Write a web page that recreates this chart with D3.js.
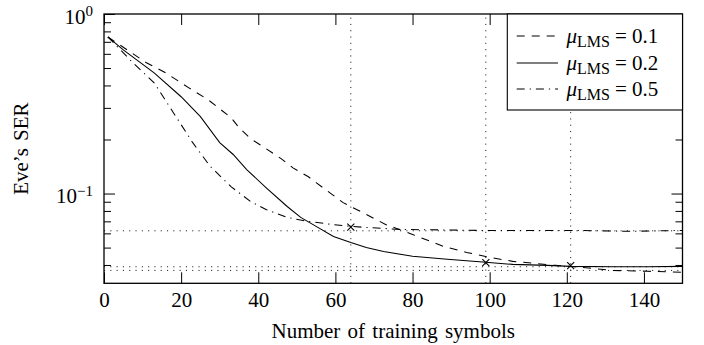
<!DOCTYPE html>
<html>
<head>
<meta charset="utf-8">
<script src="https://cdn.jsdelivr.net/npm/d3@7"></script>
<style>
  html, body { margin: 0; padding: 0; background: #fff; }
  svg { display: block; }
</style>
</head>
<body>
<svg id="chart" width="704" height="345"></svg>
<script>
// Symbol error rate of the eavesdropper vs. number of LMS training symbols
const symbolsMu01 = [1, 11, 16, 22, 27, 33, 35, 38, 42, 46, 49, 53, 55, 62, 68, 73, 80, 88, 94, 100, 106, 117, 124, 132, 141, 150];
const serMu01     = [0.745, 0.535, 0.470, 0.388, 0.333, 0.264, 0.233, 0.202, 0.178, 0.156, 0.139, 0.124, 0.115, 0.089, 0.0765, 0.0673, 0.0592, 0.0508, 0.0470, 0.0441, 0.0419, 0.0398, 0.0388, 0.0373, 0.0369, 0.0364];

const symbolsMu02 = [1, 5, 13, 20, 25, 30, 33.5, 37, 42, 47.5, 51, 55, 59.5, 64, 68, 72.5, 80, 89, 99, 106, 115, 121, 132, 141, 150];
const serMu02     = [0.745, 0.631, 0.470, 0.346, 0.268, 0.192, 0.165, 0.136, 0.108, 0.0847, 0.0736, 0.0656, 0.0577, 0.0534, 0.0501, 0.0476, 0.0447, 0.0430, 0.0414, 0.0403, 0.0398, 0.0393, 0.0391, 0.0391, 0.0393];

const symbolsMu05 = [1, 7.5, 13, 18, 23, 27.5, 33, 38, 42, 47.5, 53, 59, 64, 68, 77, 98, 123, 136, 150];
const serMu05     = [0.745, 0.535, 0.414, 0.282, 0.192, 0.142, 0.109, 0.0903, 0.0815, 0.0736, 0.0699, 0.0673, 0.0656, 0.0647, 0.0631, 0.0623, 0.0623, 0.0616, 0.0623];

// Points where each step size has converged
const convergedSymbols = [64, 99, 121];
const convergedSer     = [0.0650, 0.0412, 0.0397];

// Guide levels (dotted)
const guideSymbols = [64, 99, 121];
const guideSer     = [0.0620, 0.0391, 0.0373];

const muValues   = ["0.1", "0.2", "0.5"];
const xTickVals  = [0, 20, 40, 60, 80, 100, 120, 140];
const yMajorVals = [1, 0.1];
const yMinorVals = [0.9, 0.8, 0.7, 0.6, 0.5, 0.4, 0.3, 0.2, 0.09, 0.08, 0.07, 0.06, 0.05, 0.04];
const yMajorExps = ["0", "\u22121"];

const series = [
  { mu: muValues[0], xs: symbolsMu01, ys: serMu01, dash: "8,7" },
  { mu: muValues[1], xs: symbolsMu02, ys: serMu02, dash: null },
  { mu: muValues[2], xs: symbolsMu05, ys: serMu05, dash: "8,5,1.2,5" }
];

const serif = "'Liberation Serif', Tinos, 'Times New Roman', serif";
const plotL = 104, plotR = 682.5, plotT = 14, plotB = 283.3;
const svg = d3.select("#chart").attr("font-family", serif);

const x = d3.scaleLinear().domain([0, 150]).range([plotL, plotR]);
const y = d3.scaleLog().domain([Math.pow(10, -1.5), 1]).range([plotB, plotT]);

const plot = svg.append("g");
const dotted = "1.1,5.2";

// dotted guides
plot.selectAll("line.vguide").data(guideSymbols).join("line")
  .attr("x1", d => x(d)).attr("x2", d => x(d))
  .attr("y1", plotB).attr("y2", plotT)
  .attr("stroke", "#222").attr("stroke-width", 1).attr("stroke-dasharray", dotted);
plot.selectAll("line.hguide").data(guideSer).join("line")
  .attr("x1", plotL).attr("x2", plotR)
  .attr("y1", d => y(d)).attr("y2", d => y(d))
  .attr("stroke", "#222").attr("stroke-width", 1).attr("stroke-dasharray", dotted);

// curves
const line = d3.line().x(d => x(d[0])).y(d => y(d[1]));
series.forEach(s => {
  plot.append("path")
    .datum(d3.zip(s.xs, s.ys))
    .attr("d", line)
    .attr("fill", "none")
    .attr("stroke", "#000")
    .attr("stroke-width", 1.05)
    .attr("stroke-dasharray", s.dash);
});

// convergence markers
const cross = d3.symbol().type(d3.symbolX).size(34);
plot.selectAll("path.mark").data(d3.zip(convergedSymbols, convergedSer)).join("path")
  .attr("transform", d => `translate(${x(d[0])},${y(d[1])})`)
  .attr("d", cross)
  .attr("fill", "none").attr("stroke", "#000").attr("stroke-width", 1.1);

// axes with inward ticks
const fontSize = 21;
const gx = svg.append("g").attr("transform", `translate(0,${plotB})`)
  .call(d3.axisBottom(x).tickValues(xTickVals).tickSize(-11).tickPadding(8.5));
svg.append("g").attr("transform", `translate(0,${plotT})`)
  .call(d3.axisTop(x).tickValues(xTickVals).tickSize(-11).tickFormat(""));
svg.append("g").attr("transform", `translate(${plotL},0)`)
  .call(d3.axisLeft(y).tickValues(yMajorVals).tickSize(-11).tickFormat(""));
svg.append("g").attr("transform", `translate(${plotL},0)`)
  .call(d3.axisLeft(y).tickValues(yMinorVals).tickSize(-7).tickFormat(""));
svg.append("g").attr("transform", `translate(${plotR},0)`)
  .call(d3.axisRight(y).tickValues(yMajorVals).tickSize(-11).tickFormat(""));
svg.append("g").attr("transform", `translate(${plotR},0)`)
  .call(d3.axisRight(y).tickValues(yMinorVals).tickSize(-7).tickFormat(""));

svg.selectAll(".domain").remove();
svg.selectAll(".tick line").attr("stroke", "#000").attr("stroke-width", 1);
svg.selectAll("g").attr("font-family", serif);
gx.attr("font-size", fontSize);
gx.selectAll("text").attr("fill", "#000");

// y tick labels as powers of ten
const yl = svg.append("g");
yMajorVals.forEach((v, i) => {
  const t = yl.append("text")
    .attr("x", plotL - 11).attr("y", y(v) + 9.5)
    .attr("text-anchor", "end").attr("font-size", fontSize).attr("fill", "#000");
  t.append("tspan").text("10");
  t.append("tspan").attr("font-size", 15).attr("dy", -7.5).text(yMajorExps[i]);
});

// frame
svg.append("rect")
  .attr("x", plotL).attr("y", plotT)
  .attr("width", plotR - plotL).attr("height", plotB - plotT)
  .attr("fill", "none").attr("stroke", "#000").attr("stroke-width", 1.3);

// axis titles
svg.append("text")
  .attr("x", (plotL + plotR) / 2).attr("y", 338.3)
  .attr("text-anchor", "middle").attr("font-size", fontSize).attr("word-spacing", 2)
  .text("Number of training symbols");
svg.append("text")
  .attr("transform", `translate(28,${(plotT + plotB) / 2}) rotate(-90)`)
  .attr("text-anchor", "middle").attr("font-size", fontSize).attr("word-spacing", 2)
  .text("Eve\u2019s SER");

// legend
const lg = svg.append("g");
const lgX0 = 507.3, lgX1 = plotR, lgY0 = plotT, lgY1 = 110;
lg.append("rect")
  .attr("x", lgX0).attr("y", lgY0)
  .attr("width", lgX1 - lgX0).attr("height", lgY1 - lgY0)
  .attr("fill", "#fff").attr("stroke", "#000").attr("stroke-width", 1.1);
const rowY = [36, 63, 89];
series.forEach((s, i) => {
  lg.append("line")
    .attr("x1", 516.7).attr("x2", 558)
    .attr("y1", rowY[i]).attr("y2", rowY[i])
    .attr("stroke", "#000").attr("stroke-width", 1.05)
    .attr("stroke-dasharray", s.dash);
  const t = lg.append("text")
    .attr("x", 566.5).attr("y", rowY[i] + 7)
    .attr("font-size", fontSize).attr("fill", "#000");
  t.append("tspan").attr("font-style", "italic").text("\u03bc");
  t.append("tspan").attr("font-size", 16).attr("dy", 4).text("LMS");
  t.append("tspan").attr("dy", -4).attr("dx", 5).text("= " + s.mu);
});
</script>
</body>
</html>
